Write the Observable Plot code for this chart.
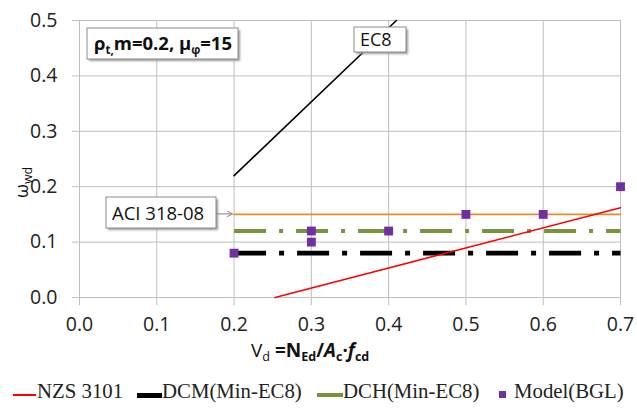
<!DOCTYPE html>
<html><head><meta charset="utf-8">
<script src="https://cdn.jsdelivr.net/npm/d3@7"></script>
<script src="https://cdn.jsdelivr.net/npm/@observablehq/plot@0.6"></script>
<style>
body{margin:0;background:#fff;}
#wrap{position:relative;width:637px;height:410px;overflow:hidden;background:#fff;}
#legend{position:absolute;left:0;top:375px;width:637px;height:35px;font-family:"Liberation Serif","Times New Roman",serif;font-size:20.8px;color:#222;}
#legend .t{position:absolute;top:5px;line-height:22px;white-space:nowrap;}
#legend .sw{position:absolute;}
</style>
</head><body>
<div id="wrap"><div id="chart"></div><div id="legend"></div></div>
<script>
// ---- data ----
const xTicks = [0, 0.1, 0.2, 0.3, 0.4, 0.5, 0.6, 0.7];
const yTicks = [0, 0.1, 0.2, 0.3, 0.4, 0.5];
const ec8X = [0.2, 0.41];
const ec8Y = [0.22, 0.5];
const aciX = [0.2, 0.7];
const aciY = [0.15, 0.15];
const dchX = [0.2, 0.7];
const dchY = [0.12, 0.12];
const dcmX = [0.2, 0.7];
const dcmY = [0.08, 0.08];
const nzsX = [0.253, 0.7];
const nzsY = [0.0, 0.162];
const modelX = [0.2, 0.3, 0.3, 0.4, 0.5, 0.6, 0.7];
const modelY = [0.08, 0.12, 0.10, 0.12, 0.15, 0.15, 0.20];
const seriesNames = ["NZS 3101", "DCM(Min-EC8)", "DCH(Min-EC8)", "Model(BGL)"];

const pts = (xs, ys) => xs.map((x, i) => ({x, y: ys[i]}));
const C = {nzs: "#ff0000", dcm: "#000000", dch: "#77933c", model: "#7030a0", aci: "#e98a2f", ec8: "#000000", grid: "#bfbfbf"};

const chart = Plot.plot({
  width: 637, height: 375,
  marginLeft: 79, marginRight: 17, marginTop: 20, marginBottom: 78,
  style: {fontFamily: "'Open Sans', sans-serif", fontSize: "19.5px", color: "#222", background: "#fff", overflow: "visible"},
  x: {domain: [0, 0.7]},
  y: {domain: [0, 0.5]},
  marks: [
    Plot.ruleX(xTicks, {stroke: C.grid, strokeWidth: 1}),
    Plot.ruleY(yTicks, {stroke: C.grid, strokeWidth: 1}),
    Plot.axisX({ticks: xTicks, tickFormat: d3.format(".1f"), tickSize: 8, tickPadding: 12, stroke: C.grid, fill: "#222", label: null, fontSize: 19.5}),
    Plot.axisY({ticks: yTicks, tickFormat: d3.format(".1f"), tickSize: 7, tickPadding: 15, stroke: C.grid, fill: "#222", label: null, fontSize: 19.5}),
    Plot.line(pts(ec8X, ec8Y), {x: "x", y: "y", stroke: C.ec8, strokeWidth: 1.6}),
    Plot.line(pts(aciX, aciY), {x: "x", y: "y", stroke: C.aci, strokeWidth: 1.6}),
    Plot.line(pts(dchX, dchY), {x: "x", y: "y", stroke: C.dch, strokeWidth: 4, strokeDasharray: "32,13,4,13", strokeLinecap: "butt"}),
    Plot.line(pts(dcmX, dcmY), {x: "x", y: "y", stroke: C.dcm, strokeWidth: 4.8, strokeDasharray: "32,13,5,13", strokeLinecap: "butt"}),
    Plot.line(pts(nzsX, nzsY), {x: "x", y: "y", stroke: C.nzs, strokeWidth: 1.6}),
    Plot.dot(pts(modelX, modelY), {x: "x", y: "y", symbol: "square", r: 5, fill: C.model, stroke: "none"})
  ]
});
document.getElementById("chart").appendChild(chart);

const svg = d3.select(chart);
svg.selectAll('g[aria-label$="tick label"]').attr("font-size", null).style("font-size", "19.5px");
svg.selectAll('g[aria-label$="tick label"] text').style("font-size", "19.5px");
const xs = chart.scale("x"), ys = chart.scale("y");
const defs = svg.append("defs");
const f = defs.append("filter").attr("id", "sh").attr("x", "-20%").attr("y", "-20%").attr("width", "150%").attr("height", "160%");
f.append("feGaussianBlur").attr("stdDeviation", 1.2);
defs.append("marker").attr("id", "arr").attr("viewBox", "0 0 10 10").attr("refX", 9).attr("refY", 5)
  .attr("markerWidth", 7).attr("markerHeight", 7).attr("orient", "auto")
  .append("path").attr("d", "M1,1 L9,5 L1,9").attr("fill", "none").attr("stroke", "#808080").attr("stroke-width", 1.3);

const ann = svg.append("g").attr("text-anchor", "start");
function box(x, y, w, h) {
  const g = ann.append("g");
  g.append("rect").attr("x", x + 2).attr("y", y + 2).attr("width", w).attr("height", h).attr("fill", "#9a9a9a").attr("filter", "url(#sh)");
  g.append("rect").attr("x", x).attr("y", y).attr("width", w).attr("height", h).attr("fill", "#fff").attr("stroke", "#8c8c8c").attr("stroke-width", 1);
  return g;
}
const font = "'Open Sans', sans-serif";

// parameter box
const b1 = box(87, 28, 151, 31);
const t1 = b1.append("text").attr("x", 94).attr("y", 50).attr("font-family", font).attr("font-size", 18.5).attr("font-weight", "bold").attr("fill", "#111");
t1.append("tspan").text("ρ");
t1.append("tspan").attr("dy", 4).attr("font-size", 11.5).text("t,");
t1.append("tspan").attr("dy", -4).text("m=0.2, μ");
t1.append("tspan").attr("dy", 4).attr("font-size", 11.5).text("φ");
t1.append("tspan").attr("dy", -4).text("=15");

// EC8 label
const b2 = box(354, 27, 52, 25);
b2.append("text").attr("x", 360).attr("y", 46).attr("font-family", font).attr("font-size", 18).attr("fill", "#111").text("EC8");

// ACI label + arrow
const b3 = box(106, 197, 110, 31);
b3.append("text").attr("x", 112).attr("y", 219.5).attr("font-family", font).attr("font-size", 18.5).attr("fill", "#111").text("ACI 318-08");
ann.append("line").attr("x1", 216).attr("y1", ys.apply(aciY[0])).attr("x2", xs.apply(aciX[0]) - 1).attr("y2", ys.apply(aciY[0]))
  .attr("stroke", "#808080").attr("stroke-width", 1).attr("marker-end", "url(#arr)");

// x axis title
const tx = ann.append("text").attr("x", 251).attr("y", 357).attr("font-family", font).attr("font-size", 19).attr("fill", "#111");
tx.append("tspan").text("V");
tx.append("tspan").attr("dy", 4).attr("font-size", 12.5).text("d");
tx.append("tspan").attr("dy", -4).attr("font-weight", "bold").text(" =N");
tx.append("tspan").attr("dy", 4).attr("font-size", 12.5).attr("font-weight", "bold").text("Ed");
tx.append("tspan").attr("dy", -4).attr("font-weight", "bold").text("/");
tx.append("tspan").attr("font-weight", "bold").attr("font-style", "italic").text("A");
tx.append("tspan").attr("dy", 4).attr("font-size", 12.5).attr("font-weight", "bold").text("c");
tx.append("tspan").attr("dy", -4).attr("font-weight", "bold").text("·");
tx.append("tspan").attr("font-weight", "bold").attr("font-style", "italic").text("f");
tx.append("tspan").attr("dy", 4).attr("font-size", 12.5).attr("font-weight", "bold").text("cd");

// y axis title
const ty = ann.append("text").attr("transform", "translate(28,198) rotate(-90)").attr("font-family", font).attr("font-size", 18).attr("fill", "#111");
ty.append("tspan").text("ω");
ty.append("tspan").attr("dy", 4).attr("font-size", 12.5).text("wd");

// legend
const lg = d3.select("#legend");
lg.append("div").attr("class", "sw").style("left", "13px").style("top", "19px").style("width", "23px").style("height", "1.6px").style("background", C.nzs);
lg.append("div").attr("class", "t").style("left", "37px").text(seriesNames[0]);
lg.append("div").attr("class", "sw").style("left", "137px").style("top", "18px").style("width", "25px").style("height", "4.8px").style("background", C.dcm);
lg.append("div").attr("class", "t").style("left", "162px").text(seriesNames[1]);
lg.append("div").attr("class", "sw").style("left", "317px").style("top", "18px").style("width", "26px").style("height", "4px").style("background", C.dch);
lg.append("div").attr("class", "t").style("left", "343px").text(seriesNames[2]);
lg.append("div").attr("class", "sw").style("left", "499px").style("top", "16px").style("width", "7px").style("height", "7px").style("background", C.model);
lg.append("div").attr("class", "t").style("left", "514px").text(seriesNames[3]);
</script>
</body></html>
